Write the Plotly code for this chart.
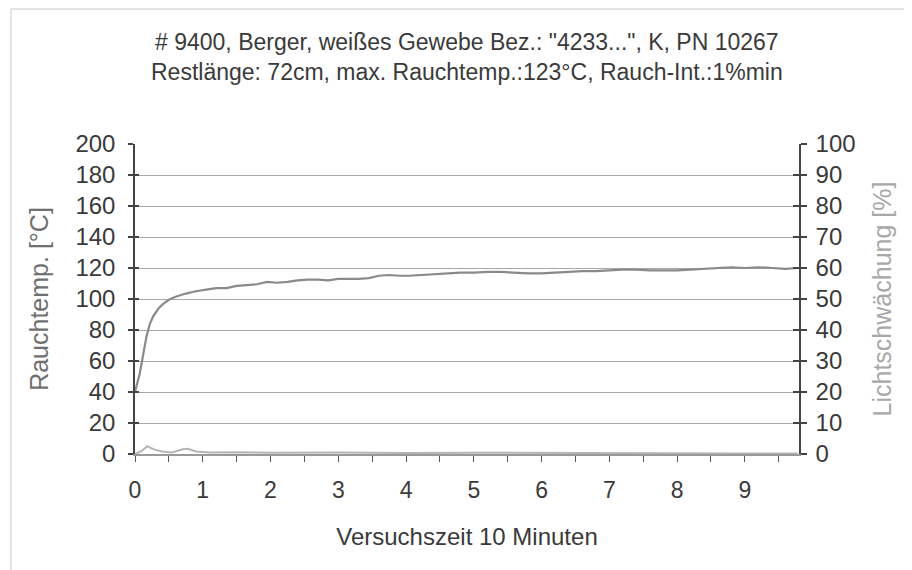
import plotly.graph_objects as go

# --- data ---
time_min = [0.00, 0.03, 0.07, 0.10, 0.13, 0.17, 0.22, 0.27, 0.35, 0.42, 0.50, 0.60, 0.75, 0.90,
            1.05, 1.20, 1.35, 1.50, 1.65, 1.80, 1.95, 2.10, 2.25, 2.40, 2.55, 2.70, 2.85, 3.00,
            3.15, 3.30, 3.45, 3.60, 3.75, 3.90, 4.05, 4.20, 4.40, 4.60, 4.80, 5.00, 5.20, 5.40,
            5.60, 5.80, 6.00, 6.20, 6.40, 6.60, 6.80, 7.00, 7.20, 7.40, 7.60, 7.80, 8.00, 8.20,
            8.40, 8.60, 8.80, 9.00, 9.20, 9.40, 9.60, 9.78]
rauchtemp = [40, 45, 52, 59, 67, 76, 84, 89, 94, 97, 99.5, 101.5, 103.5, 105,
             106, 107, 107, 108.5, 109, 109.5, 111, 110.5, 111, 112, 112.5, 112.5, 112, 113,
             113, 113, 113.5, 115, 115.5, 115, 115, 115.5, 116, 116.5, 117, 117, 117.5, 117.5,
             117, 116.5, 116.5, 117, 117.5, 118, 118, 118.5, 119, 119, 118.5, 118.5, 118.5, 119,
             119.5, 120, 120.5, 120, 120.5, 120, 119.5, 120]

time_licht = [0.00, 0.10, 0.18, 0.28, 0.40, 0.55, 0.70, 0.78, 0.90, 1.10, 1.50, 2.00, 3.00,
              4.00, 5.00, 6.00, 7.00, 8.00, 9.00, 9.78]
lichtschwaechung = [0, 1, 2.5, 1.5, 0.8, 0.5, 1.5, 1.7, 0.8, 0.5, 0.6, 0.4, 0.5,
                    0.3, 0.4, 0.3, 0.2, 0.3, 0.2, 0.2]

x_tick_vals = [0, 0.5, 1, 1.5, 2, 2.5, 3, 3.5, 4, 4.5, 5, 5.5, 6, 6.5, 7, 7.5, 8, 8.5, 9, 9.5]
x_tick_text = ["0", "", "1", "", "2", "", "3", "", "4", "", "5", "", "6", "", "7", "", "8", "", "9", ""]
y1_ticks = [0, 20, 40, 60, 80, 100, 120, 140, 160, 180, 200]
y2_ticks = [0, 10, 20, 30, 40, 50, 60, 70, 80, 90, 100]

title_line1 = '# 9400, Berger, weißes Gewebe Bez.: "4233...", K, PN 10267'
title_line2 = 'Restlänge: 72cm, max. Rauchtemp.:123°C, Rauch-Int.:1%min'

FONT = "Liberation Sans, Arial, sans-serif"
OFF = 8  # page body margin of the viewer
W, H = 912, 570
ML, MT = 135 - OFF, 144 - OFF
MR = W + OFF - 799
MB = H + OFF - 454
PW, PH = W - ML - MR, H - MT - MB

fig = go.Figure()
fig.add_trace(go.Scatter(x=time_licht, y=lichtschwaechung, mode="lines", yaxis="y2",
                         line=dict(color="#b5b5b5", width=2), showlegend=False))
fig.add_trace(go.Scatter(x=time_min, y=rauchtemp, mode="lines",
                         line=dict(color="#8a8a8a", width=2.2), showlegend=False))

fig.update_layout(
    width=W, height=H,
    margin=dict(l=ML, r=MR, t=MT, b=MB),
    paper_bgcolor="white", plot_bgcolor="white",
    font=dict(family=FONT, color="#3a3a3a"),
    xaxis=dict(range=[0, 9.8], tickmode="array", tickvals=x_tick_vals, ticktext=x_tick_text,
               ticks="outside", ticklen=6, tickcolor="#555", tickwidth=1,
               showline=True, linecolor="#999", linewidth=1.5,
               showgrid=False, zeroline=False,
               tickfont=dict(size=23, color="#3a3a3a"), ticklabelstandoff=9,
               title=dict(text="Versuchszeit 10 Minuten", font=dict(size=24, color="#3a3a3a"),
                          standoff=26)),
    yaxis=dict(range=[0, 200], tickmode="array", tickvals=y1_ticks,
               ticks="outside", ticklen=5, tickcolor="#444", tickwidth=1.5,
               showline=True, linecolor="#444", linewidth=1.5,
               showgrid=True, gridcolor="#a8a8a8", gridwidth=1, zeroline=False,
               tickfont=dict(size=24, color="#3a3a3a"), ticklabelstandoff=8,
               title=dict(text="Rauchtemp. [°C]", font=dict(size=25, color="#707070"),
                          standoff=20)),
    yaxis2=dict(range=[0, 100], tickmode="array", tickvals=y2_ticks, overlaying="y", side="right",
                ticks="outside", ticklen=6, tickcolor="#444", tickwidth=1.5,
                showline=True, linecolor="#444", linewidth=1.5,
                showgrid=False, zeroline=False,
                tickfont=dict(size=24, color="#3a3a3a"), ticklabelstandoff=4,
                title=dict(text="Lichtschwächung [%]", font=dict(size=25, color="#a8a8a8"),
                           standoff=19)),
    # inner halves of the crossing tick marks
    yaxis3=dict(range=[0, 200], tickmode="array", tickvals=y1_ticks, overlaying="y", side="left",
                ticks="inside", ticklen=4, tickcolor="#444", tickwidth=1.5,
                showticklabels=False, showline=False, showgrid=False, zeroline=False),
    yaxis4=dict(range=[0, 100], tickmode="array", tickvals=y2_ticks, overlaying="y", side="right",
                ticks="inside", ticklen=6, tickcolor="#444", tickwidth=1.5,
                showticklabels=False, showline=False, showgrid=False, zeroline=False),
)

# invisible traces to activate the tick-only axes
fig.add_trace(go.Scatter(x=[None], y=[None], yaxis="y3", showlegend=False, hoverinfo="skip"))
fig.add_trace(go.Scatter(x=[None], y=[None], yaxis="y4", showlegend=False, hoverinfo="skip"))

# two-line title
fig.add_annotation(text=title_line1, xref="paper", yref="paper", x=0.5, y=1 + (MT - (42 - OFF)) / PH,
                   showarrow=False, xanchor="center", yanchor="middle",
                   font=dict(size=23, color="#3a3a3a", family=FONT))
fig.add_annotation(text=title_line2, xref="paper", yref="paper", x=0.5, y=1 + (MT - (72 - OFF)) / PH,
                   showarrow=False, xanchor="center", yanchor="middle",
                   font=dict(size=23, color="#3a3a3a", family=FONT))

# faint chart border of the original sheet
fig.add_shape(type="rect", xref="paper", yref="paper",
              x0=(11 - OFF - ML) / PW, x1=(W + 20 - ML) / PW,
              y0=-(H + 20 - MT - PH) / PH, y1=1 + (MT - (9 - OFF)) / PH,
              line=dict(color="#c8c8c8", width=1), layer="below")

fig.write_html("out.html")
